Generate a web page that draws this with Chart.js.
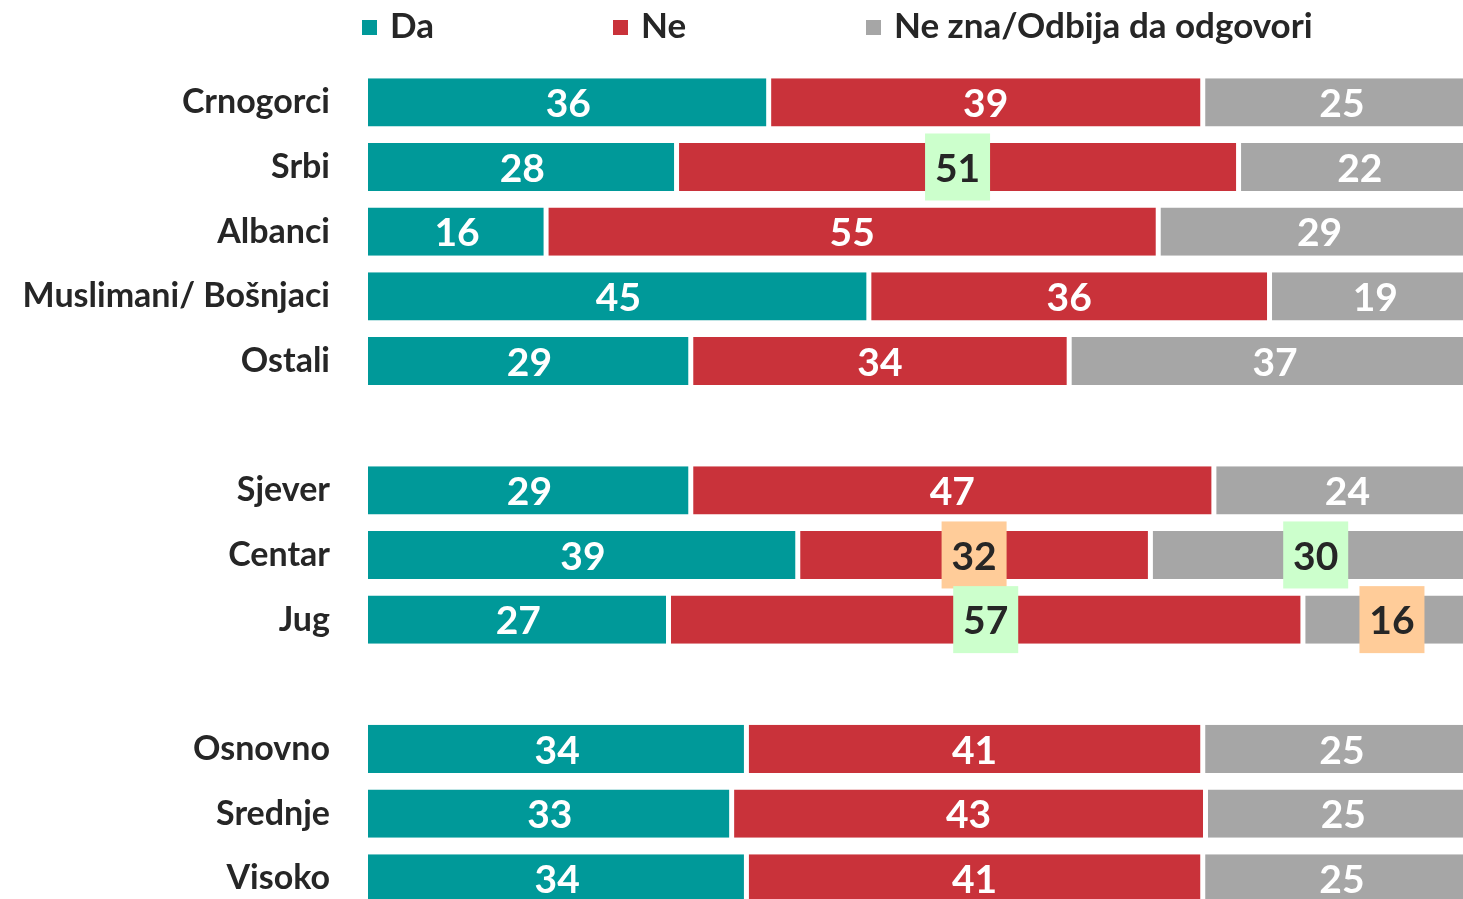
<!DOCTYPE html>
<html>
<head>
<meta charset="utf-8">
<script src="https://cdn.jsdelivr.net/npm/chart.js@4.4.1/dist/chart.umd.min.js"></script>
<style>
  html, body { margin: 0; padding: 0; background: #fff; overflow: hidden; }
  canvas { display: block; }
</style>
</head>
<body>
<canvas id="chart" width="1481" height="969"></canvas>
<script>
const categories = ['Crnogorci', 'Srbi', 'Albanci', 'Muslimani/ Bošnjaci', 'Ostali', '',
  'Sjever', 'Centar', 'Jug', '', 'Osnovno', 'Srednje', 'Visoko'];
const seriesNames = ['Da', 'Ne', 'Ne zna/Odbija da odgovori'];
const da    = [36, 28, 16, 45, 29, null, 29, 39, 27, null, 34, 33, 34];
const ne    = [39, 51, 55, 36, 34, null, 47, 32, 57, null, 41, 43, 41];
const neZna = [25, 22, 29, 19, 37, null, 24, 30, 16, null, 25, 25, 25];

const colors = ['#009999', '#c9323a', '#a6a6a6'];
const textDark = '#262626';
const green = '#ccffcc';
const orange = '#ffcc99';
// highlighted labels: [series, row, fill]
const highlights = [[1, 1, green], [1, 7, orange], [2, 7, green], [1, 8, green], [2, 8, orange]];

// 100% stacked, like the original
const raw = [da, ne, neZna];
const totals = da.map((v, i) => v === null ? null : da[i] + ne[i] + neZna[i]);
const share = arr => arr.map((v, i) => v === null ? null : v / totals[i] * 100);

const datasets = raw.map((arr, k) => ({
  label: seriesNames[k],
  data: share(arr),
  backgroundColor: colors[k],
  borderColor: '#ffffff',
  borderWidth: k === 0 ? { left: 0, right: 2.5, top: 0, bottom: 0 } : { left: 2.5, right: 2.5, top: 0, bottom: 0 },
  borderSkipped: false,
  barPercentage: 0.745,
  categoryPercentage: 1
}));

const barLabels = {
  id: 'barLabels',
  afterDatasetsDraw(chart) {
    const ctx = chart.ctx;
    ctx.save();
    ctx.font = 'bold 39px Lato';
    ctx.textAlign = 'center';
    ctx.textBaseline = 'middle';
    raw.forEach((arr, k) => {
      const meta = chart.getDatasetMeta(k);
      arr.forEach((v, i) => {
        if (v === null) return;
        const el = meta.data[i];
        const cx = (el.x + el.base) / 2;
        const hl = highlights.find(h => h[0] === k && h[1] === i);
        if (hl) {
          ctx.fillStyle = hl[2];
          ctx.fillRect(cx - 32.5, el.y - 33.5, 65, 67);
        }
        ctx.fillStyle = hl ? textDark : '#ffffff';
        ctx.fillText(String(v), cx, el.y + 2);
      });
    });
    ctx.restore();
  }
};

const topLegend = {
  id: 'topLegend',
  afterDraw(chart) {
    const ctx = chart.ctx;
    const xs = [362, 613, 866];
    ctx.save();
    ctx.font = 'bold 35px Lato';
    ctx.textBaseline = 'middle';
    ctx.textAlign = 'left';
    seriesNames.forEach((name, k) => {
      ctx.fillStyle = colors[k];
      ctx.fillRect(xs[k], 20, 15, 15);
      ctx.fillStyle = textDark;
      ctx.fillText(name, xs[k] + 28, 27);
    });
    ctx.restore();
  }
};

new Chart(document.getElementById('chart'), {
  type: 'bar',
  data: { labels: categories, datasets: datasets },
  plugins: [barLabels, topLegend],
  options: {
    indexAxis: 'y',
    responsive: false,
    animation: false,
    layout: { padding: { top: 70, left: 0, right: 0, bottom: 0 } },
    plugins: {
      legend: { display: false },
      tooltip: { enabled: false }
    },
    scales: {
      x: { stacked: true, min: 0, max: 100, display: false },
      y: {
        stacked: true,
        grid: { display: false, drawTicks: false },
        border: { display: false },
        ticks: {
          padding: 38,
          color: textDark,
          font: { family: 'Lato', weight: 'bold', size: 34 }
        },
        afterFit(scale) { scale.width = 368; }
      }
    }
  }
});
</script>
</body>
</html>
